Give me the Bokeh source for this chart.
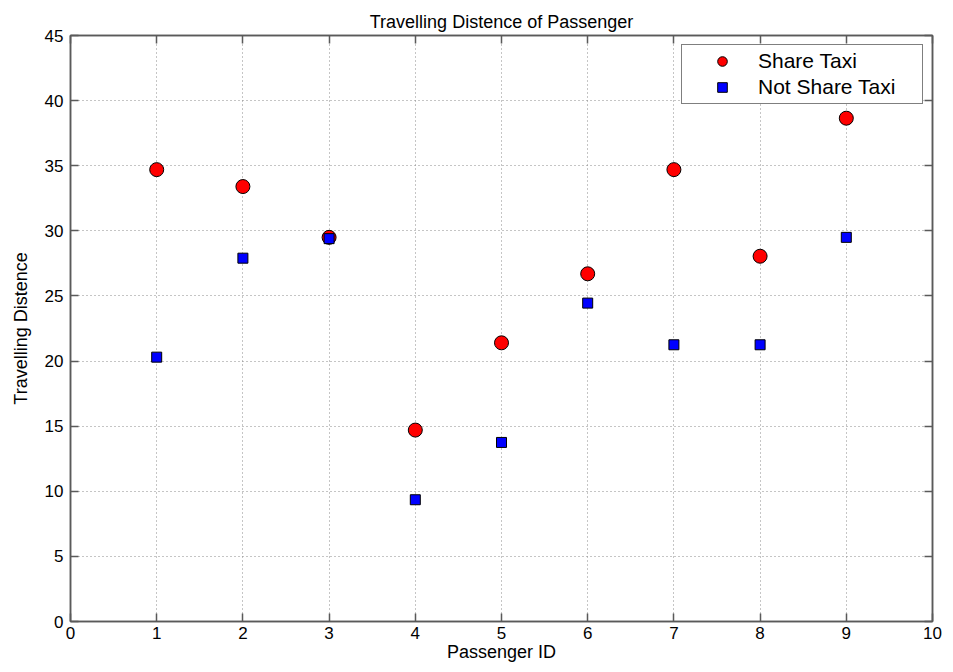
from bokeh.plotting import figure
from bokeh.models import (ColumnDataSource, FixedTicker, LinearAxis, Legend,
                          LegendItem, Range1d)
from bokeh.embed import file_html
from bokeh.resources import INLINE

# ---- data ----
passenger_id = [1, 2, 3, 4, 5, 6, 7, 8, 9]
share_taxi = [34.7, 33.4, 29.5, 14.7, 21.4, 26.7, 34.7, 28.05, 38.65]
not_share_taxi = [20.3, 27.9, 29.4, 9.35, 13.75, 24.45, 21.25, 21.25, 29.5]
x_ticks = [0, 1, 2, 3, 4, 5, 6, 7, 8, 9, 10]
y_ticks = [0, 5, 10, 15, 20, 25, 30, 35, 40, 45]

FONT = "Liberation Sans"
AXIS_COLOR = "#5a5a5a"

src = ColumnDataSource(dict(x=passenger_id, share=share_taxi, notshare=not_share_taxi))

p = figure(width=945, height=664, output_backend="svg", toolbar_location=None,
           x_range=Range1d(0, 10), y_range=Range1d(0, 45),
           min_border_left=70, min_border_right=13, min_border_top=35,
           min_border_bottom=38, x_axis_label="Passenger ID",
           y_axis_label="Travelling Distence")

p.title.text = "Travelling Distence of Passenger"
p.title.align = "center"
p.title.text_font = FONT
p.title.text_font_size = "18px"
p.title.text_font_style = "normal"
p.title.text_color = "black"
p.title.standoff = 8

p.outline_line_color = AXIS_COLOR
p.outline_line_width = 1.5
p.background_fill_color = "white"
p.border_fill_color = "white"

# grids
for g in (p.xgrid, p.ygrid):
    g.grid_line_color = "#8a8a8a"
    g.grid_line_dash = "1 3"
    g.grid_line_width = 1
p.xgrid.ticker = FixedTicker(ticks=x_ticks)
p.ygrid.ticker = FixedTicker(ticks=y_ticks)

def style_axis(ax, ticks, show_labels=True):
    ax.ticker = FixedTicker(ticks=ticks)
    ax.axis_line_color = AXIS_COLOR
    ax.axis_line_width = 1.5
    ax.major_tick_line_color = AXIS_COLOR
    ax.major_tick_line_width = 1.5
    ax.major_tick_in = 8
    ax.major_tick_out = 0
    ax.minor_tick_line_color = None
    ax.major_label_text_font = FONT
    ax.axis_label_text_font = FONT
    ax.axis_label_text_font_size = "18px"
    ax.axis_label_text_font_style = "normal"
    ax.axis_label_text_color = "black"
    if show_labels:
        ax.major_label_text_font_size = "17px"
        ax.major_label_text_color = "black"
    else:
        # tick marks only (MATLAB-style box), no labels drawn
        ax.major_label_text_font_size = "1px"
        ax.major_label_text_color = None
        ax.major_label_standoff = 0

style_axis(p.xaxis[0], x_ticks)
style_axis(p.yaxis[0], y_ticks)
p.xaxis[0].major_label_standoff = 5
p.xaxis[0].axis_label_standoff = 0
p.yaxis[0].major_label_standoff = 7
p.yaxis[0].axis_label_standoff = 11

top_axis = LinearAxis()
style_axis(top_axis, x_ticks, show_labels=False)
p.add_layout(top_axis, "above")
right_axis = LinearAxis()
style_axis(right_axis, y_ticks, show_labels=False)
p.add_layout(right_axis, "right")

r_share = p.scatter("x", "share", source=src, marker="circle", size=14,
                    fill_color="red", line_color="black", line_width=1)
r_not = p.scatter("x", "notshare", source=src, marker="square", size=10,
                  fill_color="blue", line_color="black", line_width=1)

legend = Legend(items=[LegendItem(label="Share Taxi", renderers=[r_share]),
                       LegendItem(label="Not Share Taxi", renderers=[r_not])],
                location="top_right")
legend.margin = 9
legend.padding = 4
legend.spacing = 2
legend.glyph_width = 72
legend.glyph_height = 24
legend.label_standoff = 0
legend.label_width = 160
legend.label_text_font = FONT
legend.label_text_font_size = "21px"
legend.label_text_color = "black"
legend.border_line_color = "black"
legend.border_line_width = 1
legend.background_fill_color = "white"
legend.background_fill_alpha = 1
p.add_layout(legend, "center")

open("out.html", "w").write(file_html(p, INLINE))
